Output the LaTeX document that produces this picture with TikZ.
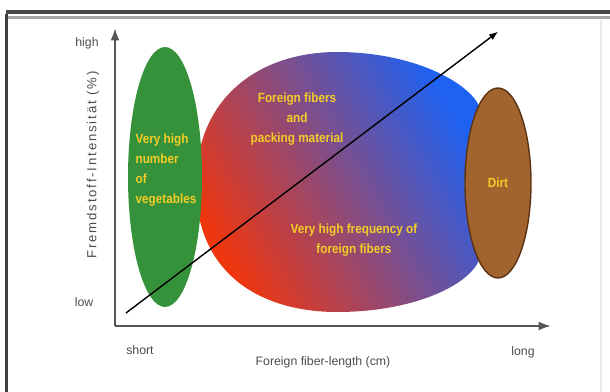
\documentclass[tikz,border=0pt]{standalone}
\usepackage{fontspec}
\setmainfont{Liberation Sans}
\newfontfamily\notefont[FakeStretch=0.88]{Liberation Sans}
\newfontfamily\spacedfont[LetterSpace=14]{Liberation Sans}
\usepackage{xcolor}
\usepackage{tikz}
\usetikzlibrary{positioning, calc, shapes.geometric, 
	arrows.meta, arrows, decorations.markings}
\definecolor{vegGreen}{HTML}{36923A}
\definecolor{dirtBrown}{HTML}{A2642E}
\definecolor{dirtEdge}{HTML}{5C3214}
\definecolor{noteYellow}{HTML}{F2CC28}
\definecolor{fibRed}{HTML}{F0360E}
\definecolor{fibPurple}{HTML}{8C3C88}
\definecolor{fibBlue}{HTML}{1E62F2}
\definecolor{axisGray}{HTML}{555555}
\tikzstyle{Arrow} = [
thick, 
decoration={
	markings,
	mark=at position 1 with {
		\arrow{Latex[length=6pt, width=4.5pt]}
	}
}, 
shorten >= 4pt, preaction = {decorate}
]
\tikzstyle{Axis} = [
line width=1.1pt, draw=axisGray,
-{Latex[length=7pt, width=5pt]}
]
\tikzstyle{Note} = [
font=\notefont\bfseries\fontsize{7.6}{11.3}\selectfont,
text=noteYellow, align=center, inner sep=0pt
]
\tikzstyle{AxisText} = [
font=\fontsize{7}{8}\selectfont, text=black!70, inner sep=0pt
]

\begin{document}
\begin{tikzpicture}[x=0.02cm, y=-0.02cm]
			\useasboundingbox (0,0) rectangle (610,392);
			% frame
			\fill[black!72] (6,10) rectangle (610,14);
			\fill[black!35] (6,16) rectangle (610,19);
			\draw[black!75, line width=1.2pt] (6.5,14) -- (6.5,392);
			\draw[black!8, line width=0.8pt] (601,20) -- (601,392);
			
			% foreign fibers region
			\shade[left color=fibRed, middle color=fibPurple, right color=fibBlue, shading angle=120]
				(196,185) .. controls (196,95) and (262,52) .. (337,52)
				.. controls (412,52) and (470,82) .. (480,108) -- (480,258)
				.. controls (470,286) and (412,312) .. (337,312)
				.. controls (262,312) and (196,275) .. (196,185);
			
			\node[ellipse, fill=vegGreen, inner sep=0pt, minimum width=1.48cm, minimum height=5.2cm] (1) at (165,177) {};
			\node[ellipse, fill=dirtBrown, draw=dirtEdge, line width=0.8pt, inner sep=0pt, minimum width=1.32cm, minimum height=3.8cm, Note] (2) at (498,183) {Dirt};
			
			\node[Note, align=left] (3) at (166,170) {Very high\\number\\of\\vegetables};
			\node[Note] (4) at (297,119) {Foreign fibers\\and\\packing material};
			\node[Note] (5) at (354,240) {Very high frequency of\\foreign fibers};
			
			% axes
			\coordinate (O) at (115,326);
			\coordinate (6) at (115,28);
			\coordinate (7) at (551,326);
			\draw[Axis] (O) -- (6);
			\draw[Axis] (O) -- (7);
			
			\coordinate (8) at (126,313);
			\coordinate (9) at (499,31);
			\draw[Arrow] (8) -- (9);
			
			\node[AxisText] (10) at (87,43) {high};
			\node[AxisText] (11) at (84,302) {low};
			\node[AxisText, font=\spacedfont\fontsize{7.5}{8}\selectfont, rotate=90] (12) at (93,165) {Fremdstoff-Intensität (\%)};
			\node[AxisText] (13) at (140,350) {short};
			\node[AxisText] (14) at (523,352) {long};
			\node[AxisText] (15) at (323,362) {Foreign fiber-length (cm)};
		\end{tikzpicture}
\end{document}
